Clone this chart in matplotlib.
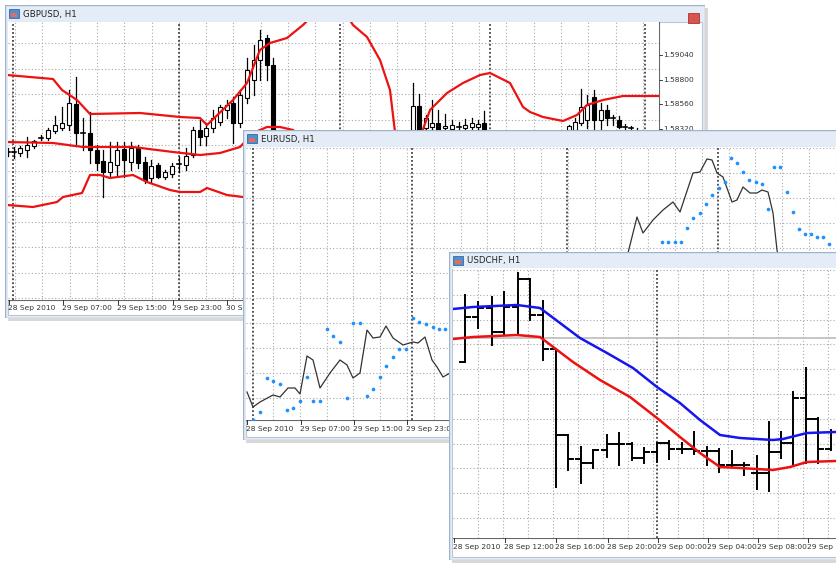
import matplotlib
matplotlib.use("Agg")
import matplotlib.pyplot as plt
from matplotlib.patches import Rectangle

W, H = 836, 564
# ---------------- GBPUSD data (positions, px units) -------------
gbp_x = [8,14,20,27,34,41,48,55,62,69,76,83,90,97,103,110,117,124,131,138,145,151,158,165,172,179,186,193,200,206,213,220,227,233,240,247,254,260,267,273,
         413,419,426,432,438,445,452,459,465,472,478,484,
         569,575,581,587,594,601,607,613,619,625,631,637]
gbp_o = [152,152,153,150,146,138,138,131,128,125,104,133,133,150,161,172,165,149,162,148,162,178,165,177,174,164,165,155,130,136,128,122,110,103,123,98,80,60,38,65,
         130,106,128,127,123,128,129,127,128,127,127,123,
         130,130,123,120,97,120,110,118,120,127,128,131]
gbp_h = [148,147,146,137,140,135,128,116,107,90,77,118,112,145,150,142,142,142,142,145,157,160,163,170,163,157,148,127,120,123,110,105,100,97,90,58,45,30,35,58,
         83,94,115,100,110,114,120,122,119,118,120,111,
         125,118,89,95,90,103,105,115,116,124,126,128]
gbp_l = [156,158,156,157,148,140,140,133,130,130,146,150,163,170,197,177,175,177,170,168,183,182,178,179,177,172,170,157,145,145,132,125,118,143,127,103,95,80,80,135,
         132,132,132,130,132,132,131,130,130,130,130,132,
         132,132,125,128,135,135,125,125,128,130,131,133]
gbp_c = [152,152,148,145,141,138,130,125,123,103,133,133,150,163,172,162,150,160,148,163,180,166,177,172,166,164,156,130,137,128,118,107,105,123,95,70,60,40,65,130,
         106,130,118,123,130,126,125,127,125,123,124,130,
         126,122,107,105,120,110,118,118,127,127,128,131]
gbp_up_x = [7,53,62,77,90,140,180,200,207,233,247,260,270,287,303,320,337,353,367,380,390,395]
gbp_up_y = [75,79,90,100,114,113,117,118,125,100,83,50,43,38,25,8,0,25,37,60,90,132]
gbp_mid_x = [7,53,83,133,173,200,220,240,253,267,280,293]
gbp_mid_y = [142,143,147,147,152,155,153,147,133,127,127,130]
gbp_lo_x = [7,33,57,63,82,90,100,110,133,147,170,180,200,207,227,243]
gbp_lo_y = [205,207,202,197,193,175,175,178,175,182,190,192,192,188,195,197]
gbp_b2_x = [422,430,447,463,480,490,510,523,530,543,563,577,587,603,623,658]
gbp_b2_y = [132,110,93,83,75,73,83,107,112,117,121,115,105,100,96,96]
gbp_price_labels = ["1.59040", "1.58800", "1.58560", "1.58320"]
gbp_price_pos = [55, 80, 104, 129]
gbp_time_labels = ["28 Sep 2010", "29 Sep 07:00", "29 Sep 15:00", "29 Sep 23:00", "30 Se"]
gbp_time_pos = [8, 62, 117, 172, 226]

# ---------------- EURUSD data -------------
eur_line_x = [247,253,260,273,280,288,295,300,307,313,320,330,340,347,353,360,367,373,380,386,393,403,413,418,425,432,437,443,450,458]
eur_line_y = [392,407,402,395,397,388,388,394,356,360,388,373,360,365,378,373,330,338,337,326,338,345,342,343,337,360,367,377,373,380]
eur_line2_x = [628,637,643,653,663,673,680,693,700,707,712,717,723,732,737,743,750,757,762,768,773,777,781]
eur_line2_y = [253,217,233,220,210,202,212,173,172,159,160,173,177,202,200,187,193,193,190,192,213,250,270]
eur_dot_x = [253,260,267,273,280,287,293,300,307,313,320,327,333,340,347,353,360,367,373,380,386,393,399,406,413,419,426,433,439,445,
             662,668,675,681,687,693,700,706,712,719,725,731,737,743,749,756,762,768,774,780,787,793,799,805,811,817,823,829]
eur_dot_y = [420,412,378,381,384,410,408,401,377,401,401,329,336,342,398,323,323,396,389,377,366,357,349,349,318,322,324,327,329,329,
             242,242,242,242,228,218,213,204,195,188,182,158,163,172,180,182,184,209,167,167,192,212,229,234,234,237,237,244]
eur_time_labels = ["28 Sep 2010", "29 Sep 07:00", "29 Sep 15:00", "29 Sep 23:00"]
eur_time_pos = [246, 300, 353, 406]

# ---------------- USDCHF data -------------
chf_x = [465,478,492,504,518,530,543,556,568,581,593,607,619,632,644,657,669,682,694,707,719,732,744,757,769,781,793,806,818,831]
chf_h = [295,302,297,292,273,279,301,349,435,447,450,435,433,443,448,443,441,443,432,447,449,451,463,456,422,432,392,368,418,430]
chf_l = [362,328,345,335,333,320,360,487,470,483,468,457,465,460,463,462,459,453,454,465,472,467,475,489,491,458,465,463,463,450]
chf_o = [362,317,308,332,307,279,315,349,435,459,463,450,444,444,458,452,443,449,449,451,451,465,465,473,473,452,443,398,419,449]
chf_c = [317,308,332,307,279,315,349,435,459,463,450,444,444,458,452,443,449,449,451,451,465,465,465,473,452,443,398,419,449,432]
chf_blue_x = [453,473,517,540,580,607,633,657,680,700,720,740,773,783,807,836]
chf_blue_y = [309,307,305,308,338,353,368,387,403,420,435,438,440,439,433,432]
chf_red_x = [453,473,517,540,573,600,630,657,680,700,720,740,773,790,807,836]
chf_red_y = [339,337,335,337,362,380,397,418,437,453,467,468,470,467,462,461]
chf_time_labels = ["28 Sep 2010", "28 Sep 12:00", "28 Sep 16:00", "28 Sep 20:00", "29 Sep 00:00",
                   "29 Sep 04:00", "29 Sep 08:00", "29 Sep 1"]
chf_time_pos = [453, 504, 555, 607, 657, 707, 757, 807]

fig = plt.figure(figsize=(W / 100, H / 100), dpi=100)
fig.patch.set_facecolor("white")
FONT = "DejaVu Sans"
GRID = "#a8a8a8"
FS = 5.4


def px_axes(x0, y0, x1, y1, z):
    ax = fig.add_axes([x0 / W, 1 - y1 / H, (x1 - x0) / W, (y1 - y0) / H], zorder=z)
    ax.set_xlim(x0, x1)
    ax.set_ylim(y1, y0)
    return ax


def window(x0, y0, x1, y1, title, z, close=False):
    sh = px_axes(x0, y0, min(x1 + 4, W), min(y1 + 5, H), z)
    sh.axis("off")
    sh.add_patch(Rectangle((x0 + 3, y0 + 3), x1 - x0, y1 - y0, color="#d8d8d8", lw=0))
    ax = px_axes(x0, y0, x1, y1, z + 0.1)
    ax.axis("off")
    ax.add_patch(Rectangle((x0, y0), x1 - x0, y1 - y0, facecolor="#e4edf7", edgecolor="#9fb3c8", lw=1))
    ax.add_patch(Rectangle((x0 + 3, y0 + 17), x1 - x0 - 6, y1 - y0 - 20, facecolor="white", edgecolor="#b8c6d6", lw=0.8))
    ax.add_patch(Rectangle((x0 + 4, y0 + 4), 10, 9, facecolor="#4f8fd0", edgecolor="#2f6aa8", lw=0.6))
    ax.add_patch(Rectangle((x0 + 6, y0 + 8), 6, 4, facecolor="#e86a5a", lw=0))
    ax.text(x0 + 18, y0 + 9, title, fontsize=6.2, color="#222", va="center", ha="left", family=FONT)
    if close:
        ax.add_patch(Rectangle((x1 - 17, y0 + 8), 11, 10, facecolor="#d9534f", edgecolor="#a33", lw=0.6))
    return ax


def plot_axes(x0, y0, x1, y1, z, vgrid, hgrid, seps):
    ax = px_axes(x0, y0, x1, y1, z)
    ax.set_facecolor("white")
    for s in ax.spines.values():
        s.set_visible(False)
    ax.set_xticks([]); ax.set_yticks([])
    for g in vgrid:
        ax.axvline(g, color=GRID, lw=0.8, ls=(0, (1, 2)), zorder=0)
    for g in hgrid:
        ax.axhline(g, color=GRID, lw=0.8, ls=(0, (1, 2)), zorder=0)
    for s in seps:
        ax.axvline(s, color="#444", lw=1.3, ls=(0, (1, 1.2)), zorder=0.5)
    return ax


def time_labels(frame, pos, labels, y, tick_y):
    for p, t in zip(pos, labels):
        frame.plot([p + 1, p + 1], [tick_y, tick_y + 4], color="#333", lw=0.7)
        frame.text(p, y, t, fontsize=FS, color="#333", va="center", ha="left", family=FONT)


# ============ Window 1: GBPUSD ============
f1 = window(5, 5, 705, 318, "GBPUSD, H1", 1, close=True)
a1 = plot_axes(8, 22, 659, 300, 2,
               [15 + 27.3 * i for i in range(24)], [43 + 25.5 * i for i in range(11)],
               [13, 179, 340, 490, 645])
for x, o, h, l, c in zip(gbp_x, gbp_o, gbp_h, gbp_l, gbp_c):
    a1.plot([x, x], [h, l], color="black", lw=0.9, zorder=2)
    if abs(o - c) < 1.5:
        a1.plot([x - 2.3, x + 2.3], [o, o], color="black", lw=1.2, zorder=3)
    else:
        a1.bar(x, abs(o - c), bottom=min(o, c), width=4.6,
               color="white" if c < o else "black", edgecolor="black", lw=0.8, zorder=3)
for xs, ys in [(gbp_up_x, gbp_up_y), (gbp_mid_x, gbp_mid_y), (gbp_lo_x, gbp_lo_y), (gbp_b2_x, gbp_b2_y)]:
    a1.plot(xs, ys, color="#ee1111", lw=1.6, zorder=4, solid_joinstyle="round")
f1.plot([659, 659], [22, 300], color="#666", lw=0.8)
for p, t in zip(gbp_price_pos, gbp_price_labels):
    f1.plot([659, 662], [p, p], color="#444", lw=0.7)
    f1.text(663, p, t, fontsize=FS, color="#333", va="center", ha="left", family=FONT)
f1.plot([8, 659], [300, 300], color="#666", lw=0.8)
time_labels(f1, gbp_time_pos, gbp_time_labels, 308, 300)

# ============ Window 2: EURUSD ============
f2 = window(243, 130, 846, 440, "EURUSD, H1", 3)
a2 = plot_axes(246, 147, 836, 420, 4,
               [273 + 26.8 * i for i in range(22)], [148 + 25 * i for i in range(11)],
               [253, 412, 567, 718])
a2.plot(eur_line_x, eur_line_y, color="#333", lw=0.9, zorder=2)
a2.plot(eur_line2_x, eur_line2_y, color="#333", lw=0.9, zorder=2)
a2.scatter(eur_dot_x, eur_dot_y, s=7, color="#1e90ff", zorder=3, lw=0)
f2.plot([246, 836], [420, 420], color="#666", lw=0.8)
time_labels(f2, eur_time_pos, eur_time_labels, 429, 420)

# ============ Window 3: USDCHF ============
f3 = window(449, 252, 846, 560, "USDCHF, H1", 5)
a3 = plot_axes(453, 268, 836, 538, 6,
               [478 + 25 * i for i in range(15)], [270 + 24.8 * i for i in range(11)],
               [657])
a3.axhline(338, color="#bbbbbb", lw=1.2, zorder=1)
for x, o, h, l, c in zip(chf_x, chf_o, chf_h, chf_l, chf_c):
    a3.plot([x, x], [h, l], color="black", lw=1.4, zorder=2)
    a3.plot([x - 5, x], [o, o], color="black", lw=1.4, zorder=2)
    a3.plot([x, x + 5], [c, c], color="black", lw=1.4, zorder=2)
a3.plot(chf_blue_x, chf_blue_y, color="#1515ee", lw=1.8, zorder=4, solid_joinstyle="round")
a3.plot(chf_red_x, chf_red_y, color="#ee1111", lw=1.8, zorder=4, solid_joinstyle="round")
f3.plot([453, 836], [538, 538], color="#666", lw=0.8)
time_labels(f3, chf_time_pos, chf_time_labels, 547, 538)

fig.savefig("out.png", dpi=100, facecolor="white")
